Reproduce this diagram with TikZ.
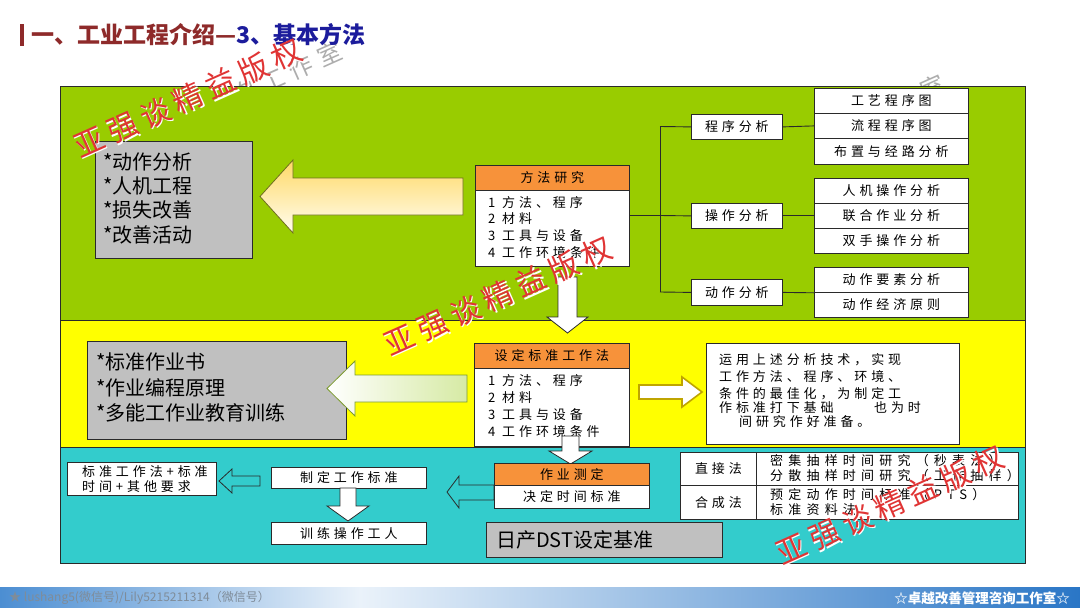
\documentclass[tikz,border=0pt]{standalone}
\usepackage{fontspec}
\setmainfont{Noto Sans CJK SC}
\newfontfamily\cjk{Noto Sans CJK SC}
\newfontfamily\spfont[LetterSpace=30]{Noto Sans CJK SC}
\newfontfamily\spwide[LetterSpace=40]{Noto Sans CJK SC}
\newfontfamily\wmfont[LetterSpace=20]{Noto Sans CJK SC}
\usetikzlibrary{calc}
\definecolor{pgreen}{HTML}{99CC00}
\definecolor{pyellow}{HTML}{FFFF00}
\definecolor{pteal}{HTML}{33CCCC}
\definecolor{porange}{HTML}{F7923A}
\definecolor{pgray}{HTML}{C0C0C0}
\definecolor{titlered}{HTML}{8E2A2A}
\definecolor{titleblue}{HTML}{1C1C9C}
\definecolor{wmred}{HTML}{E03434}
\definecolor{edge}{HTML}{2A2A2A}
\definecolor{arrolive}{HTML}{6E6E1E}
\definecolor{arrgreen}{HTML}{7C9A2E}
\definecolor{arrgold}{HTML}{BFA400}
\definecolor{ylA}{HTML}{FFD966}
\definecolor{ylB}{HTML}{FFFDF0}
\definecolor{grA}{HTML}{D6EAA4}
\definecolor{footA}{HTML}{4C8ED2}
\definecolor{footB}{HTML}{EAF2FA}
\definecolor{footC}{HTML}{2A76C6}
\definecolor{foottxt}{HTML}{7F8C99}
\tikzset{
  panel/.style={draw=edge, line width=0.9pt, anchor=north west, inner sep=0},
  wbox/.style={draw=edge, fill=white, line width=0.8pt, anchor=north west, inner sep=0,
    font=\spfont\fontsize{13}{13}\selectfont},
  hbox/.style={wbox, fill=porange},
  gbox/.style={draw=edge, fill=pgray, line width=0.8pt, anchor=north west, inner sep=0},
  tl/.style={anchor=west, inner sep=0, font=\spfont\fontsize{13}{13}\selectfont},
  tlw/.style={anchor=west, inner sep=0, font=\spwide\fontsize{13}{13}\selectfont},
  big/.style={anchor=west, inner sep=0, font=\cjk\fontsize{20}{20}\selectfont},
  wm/.style={text=wmred, font=\wmfont\fontsize{30}{30}\selectfont, rotate=24, inner sep=0},
  wms/.style={text=white, font=\wmfont\fontsize{30}{30}\selectfont, rotate=24, inner sep=0},
  wmg/.style={text=black!32, font=\spfont\fontsize{24}{24}\selectfont, rotate=24, inner sep=0},
  link/.style={draw=edge, line width=0.9pt},
  arr/.style={draw=edge, line width=0.8pt, line join=miter},
}
\begin{document}
\begin{tikzpicture}[x=1pt,y=-1pt]
\useasboundingbox (0,0) rectangle (1080,608);
\fill[white] (0,0) rectangle (1080,608);

% grey watermarks (only the part above the panels shows)
\begin{scope}
\clip (0,0) rectangle (1080,86);
\node[wmg] (wg1) at (187,118) {卓越改善管理咨询工作室};
\node[wmg] (wg2) at (790,151) {卓越改善管理咨询工作室};
\end{scope}

% title
\fill[titlered] (20,24) rectangle (24,46);
\node[anchor=west, inner sep=0, text=titlered, font=\cjk\bfseries\fontsize{23}{23}\selectfont] (title) at (31,35)
  {一、工业工程介绍—\textcolor{titleblue}{3、基本方法}};

% panels
\node[panel, fill=pgreen, minimum width=965pt, minimum height=234pt] (pg) at (60,86) {};
\node[panel, fill=pyellow, minimum width=965pt, minimum height=127pt] (py) at (60,320) {};
\node[panel, fill=pteal, minimum width=965pt, minimum height=116pt] (pt) at (60,447) {};

% ===== top (green) section =====
\node[gbox, minimum width=157pt, minimum height=117pt] (g1) at (95,141) {};
\node[big] (g1a) at (103,162) {*动作分析};
\node[big] (g1b) at (103,186) {*人机工程};
\node[big] (g1c) at (103,210) {*损失改善};
\node[big] (g1d) at (103,235) {*改善活动};

\draw[arr, draw=arrolive, top color=ylA, bottom color=ylB]
  (260,196.5) -- (293,160) -- (293,178) -- (463,178) -- (463,215) -- (293,215) -- (293,233) -- cycle;

\node[hbox, minimum width=154pt, minimum height=25pt] (msh) at (475,165) {方法研究};
\node[wbox, minimum width=154pt, minimum height=76pt] (msb) at (475,190) {};
\node[tl] (m1) at (488,203) {1 方法、程序};
\node[tl] (m2) at (488,219) {2 材料};
\node[tl] (m3) at (488,236) {3 工具与设备};
\node[tl] (m4) at (488,253) {4 工作环境条件};

\node[wbox, minimum width=91pt, minimum height=25pt] (ps) at (691,114) {程序分析};
\node[wbox, minimum width=91pt, minimum height=25pt] (os) at (691,203) {操作分析};
\node[wbox, minimum width=91pt, minimum height=26pt] (ds) at (691,279) {动作分析};

\node[wbox, minimum width=154pt, minimum height=25pt] (r11) at (814,88) {工艺程序图};
\node[wbox, minimum width=154pt, minimum height=25pt] (r12) at (814,113) {流程程序图};
\node[wbox, minimum width=154pt, minimum height=26pt] (r13) at (814,138) {布置与经路分析};
\node[wbox, minimum width=154pt, minimum height=25pt] (r21) at (814,178) {人机操作分析};
\node[wbox, minimum width=154pt, minimum height=25pt] (r22) at (814,203) {联合作业分析};
\node[wbox, minimum width=154pt, minimum height=25pt] (r23) at (814,228) {双手操作分析};
\node[wbox, minimum width=154pt, minimum height=25pt] (r31) at (814,267) {动作要素分析};
\node[wbox, minimum width=154pt, minimum height=25pt] (r32) at (814,292) {动作经济原则};

\coordinate (bt) at (660,126.5);
\coordinate (bm) at (660,215.5);
\coordinate (bb) at (660,292);
\draw[link] (msb.east |- bm) -- (bm);
\draw[link] (bt) -- (bb);
\draw[link] (bt) -- (ps.west);
\draw[link] (bm) -- (os.west);
\draw[link] (bb) -- (ds.west);
\draw[link] (ps.east) -- (r12.west);
\draw[link] (os.east) -- (r22.west);
\draw[link] (ds.east) -- (r31.south west);

% down arrow green -> yellow
\draw[arr, fill=white] (558,277) -- (577,277) -- (577,317) -- (588,317) -- (567.5,333) -- (547,317) -- (558,317) -- cycle;

% ===== middle (yellow) section =====
\node[gbox, minimum width=259pt, minimum height=98pt] (g2) at (87,341) {};
\node[big] (g2a) at (96,362) {*标准作业书};
\node[big] (g2b) at (96,388) {*作业编程原理};
\node[big] (g2c) at (96,413) {*多能工作业教育训练};

\draw[arr, draw=arrgreen, left color=white, right color=grA]
  (327,388.5) -- (355,361) -- (355,375) -- (467,375) -- (467,402) -- (355,402) -- (355,416) -- cycle;

\node[hbox, minimum width=155pt, minimum height=25pt] (ssh) at (474,343) {设定标准工作法};
\node[wbox, minimum width=155pt, minimum height=78pt] (ssb) at (474,368) {};
\node[tl] (s1) at (488,381) {1 方法、程序};
\node[tl] (s2) at (488,398) {2 材料};
\node[tl] (s3) at (488,415) {3 工具与设备};
\node[tl] (s4) at (488,432) {4 工作环境条件};

\draw[arr, draw=arrgold, line width=1.6pt, fill=white]
  (639,385) -- (682,385) -- (682,377) -- (702,392) -- (682,407) -- (682,399) -- (639,399) -- cycle;

\node[wbox, minimum width=253pt, minimum height=101pt] (tb) at (706,343) {};
\node[tl] (t1) at (719,360) {运用上述分析技术，实现};
\node[tl] (t2) at (719,377) {工作方法、程序、环境、};
\node[tl] (t3) at (719,394) {条件的最佳化，为制定工};
\node[tl] (t4) at (719,408) {作标准打下基础};
\node[tl] (t4b) at (874,408) {也为时};
\node[tl] (t5) at (739,422) {间研究作好准备。};

% down arrow yellow -> teal
\draw[arr, fill=white] (562,436) -- (579,436) -- (579,451) -- (592,451) -- (570.5,464) -- (549,451) -- (562,451) -- cycle;

% ===== bottom (teal) section =====
\node[wbox, minimum width=149pt, minimum height=33pt] (sw) at (67,462) {};
\node[tl] (sw1) at (82,472) {标准工作法+标准};
\node[tl] (sw2) at (82,487) {时间+其他要求};

\node[wbox, minimum width=155pt, minimum height=21pt] (zd) at (271,467) {制定工作标准};
\node[wbox, minimum width=155pt, minimum height=22pt] (xl) at (271,522) {训练操作工人};

\draw[arr] (219,481) -- (232,469) -- (232,476) -- (260,476) -- (260,486) -- (232,486) -- (232,493) -- cycle;
\draw[arr, fill=white] (340,488) -- (356,488) -- (356,506) -- (369,506) -- (348,521) -- (327,506) -- (340,506) -- cycle;

\node[hbox, minimum width=155pt, minimum height=22pt] (zc) at (494,463) {作业测定};
\node[wbox, minimum width=155pt, minimum height=23pt] (zcb) at (494,485) {决定时间标准};
\draw[arr] (447,492) -- (459,476) -- (459,485) -- (494,485) -- (494,500) -- (459,500) -- (459,508) -- cycle;

\node[wbox, minimum width=76pt, minimum height=33pt] (t11) at (680,452) {直接法};
\node[wbox, minimum width=262pt, minimum height=33pt] (t12) at (756,452) {};
\node[wbox, minimum width=76pt, minimum height=34pt] (t21) at (680,485) {合成法};
\node[wbox, minimum width=262pt, minimum height=34pt] (t22) at (756,485) {};
\node[tlw] (ta) at (770,461) {密集抽样时间研究（秒表法）};
\node[tlw] (tbb) at (770,476) {分散抽样时间研究（工作抽样）};
\node[tlw] (tc) at (770,495) {预定动作时间标准（PTS）};
\node[tlw] (td) at (770,510) {标准资料法};

\node[gbox, minimum width=236pt, minimum height=35pt] (dst) at (486,522) {};
\node[big] (dstt) at (496,540) {日产DST设定基准};

% ===== red watermarks =====
\node[wms] (w1s) at (189.5,99.5) {亚强谈精益版权};
\node[wm] (w1) at (188,98) {亚强谈精益版权};
\node[wms] (w2s) at (499.5,297.5) {亚强谈精益版权};
\node[wm] (w2) at (498,296) {亚强谈精益版权};
\node[wms] (w3s) at (891.5,506.5) {亚强谈精益版权};
\node[wm] (w3) at (890,505) {亚强谈精益版权};

% ===== footer =====
\shade[left color=footA, right color=footB] (0,587) rectangle (360,608);
\shade[left color=footB, right color=footC] (360,587) rectangle (1080,608);
\node[anchor=west, inner sep=0, text=foottxt, font=\cjk\fontsize{12}{12}\selectfont] (fl) at (9,598)
  {★ lushang5(微信号)/Lily5215211314（微信号）};
\node[anchor=east, inner sep=0, text=white, font=\cjk\bfseries\fontsize{13.5}{13.5}\selectfont] (fr) at (1070,598)
  {☆卓越改善管理咨询工作室☆};
\end{tikzpicture}
\end{document}
